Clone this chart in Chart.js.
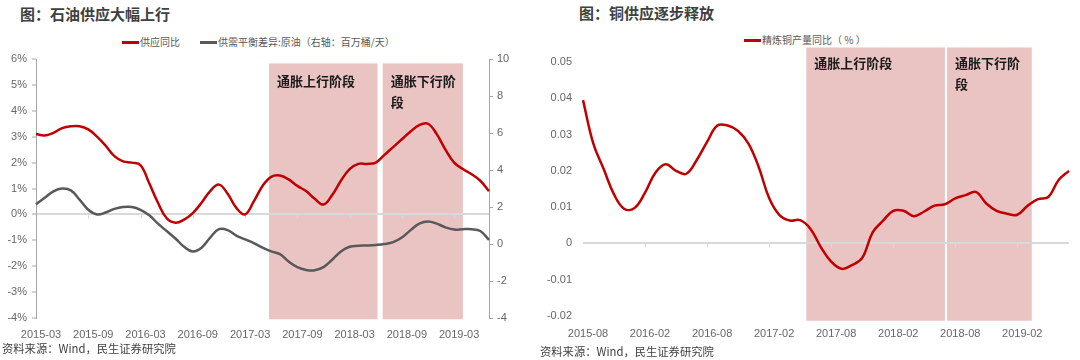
<!DOCTYPE html>
<html>
<head>
<meta charset="utf-8">
<script src="https://cdn.jsdelivr.net/npm/chart.js@4.4.0/dist/chart.umd.min.js"></script>
<style>
body{margin:0;background:#fff;width:1080px;height:360px;overflow:hidden;position:relative;font-family:'Noto Sans CJK SC',sans-serif;}
.box{position:absolute;top:0;width:540px;height:360px;}
.title{position:absolute;font-weight:bold;font-size:15px;color:#404040;line-height:20px;white-space:nowrap;}
.legend{position:absolute;font-size:10px;color:#595959;line-height:14px;white-space:nowrap;}
.legend i{display:inline-block;width:17px;height:3px;vertical-align:middle;margin-right:1px;position:relative;top:-1px;}
.src{position:absolute;font-size:11.3px;color:#404040;line-height:16px;white-space:nowrap;}
</style>
</head>
<body>
<div class="title" style="left:20px;top:4px;">图：石油供应大幅上行</div>
<div class="legend" style="left:122px;top:35px;"><i style="background:#c00000"></i>供应同比<span style="display:inline-block;width:20px"></span><i style="background:#595959"></i>供需平衡差异:原油（右轴：百万桶/天）</div>
<div class="box" style="left:0"><canvas id="oil"></canvas></div>
<div class="src" style="left:2px;top:340px;">资料来源：Wind，民生证券研究院</div>

<div class="title" style="left:579px;top:3px;">图：铜供应逐步释放</div>
<div class="legend" style="left:744px;top:33px;"><i style="background:#c00000"></i>精炼铜产量同比（ % ）</div>
<div class="box" style="left:540px"><canvas id="copper"></canvas></div>
<div class="src" style="left:540px;top:343px;">资料来源：Wind，民生证券研究院</div>

<script>
// 石油
var oilLabels = ['2015-03','2015-04','2015-05','2015-06','2015-07','2015-08','2015-09','2015-10','2015-11','2015-12',
  '2016-01','2016-02','2016-03','2016-04','2016-05','2016-06','2016-07','2016-08','2016-09','2016-10','2016-11','2016-12',
  '2017-01','2017-02','2017-03','2017-04','2017-05','2017-06','2017-07','2017-08','2017-09','2017-10','2017-11','2017-12',
  '2018-01','2018-02','2018-03','2018-04','2018-05','2018-06','2018-07','2018-08','2018-09','2018-10','2018-11','2018-12',
  '2019-01','2019-02','2019-03','2019-04','2019-05','2019-06','2019-07'];
var oilTicks = ['2015-03','2015-09','2016-03','2016-09','2017-03','2017-09','2018-03','2018-09','2019-03'];
var oilSupply = [3.10,3.05,3.15,3.33,3.40,3.40,3.28,3.00,2.65,2.25,
  2.05,2.00,1.90,1.20,0.45,-0.15,-0.32,-0.20,0.05,0.45,0.90,1.15,
  0.80,0.25,0.00,0.50,1.10,1.45,1.50,1.35,1.10,0.90,0.60,0.38,
  0.75,1.30,1.75,1.95,1.95,2.00,2.30,2.60,2.90,3.20,3.45,3.50,
  3.10,2.50,2.00,1.75,1.55,1.30,0.90];
var oilBalance = [2.15,2.50,2.85,3.00,2.90,2.40,1.85,1.60,1.70,1.90,
  2.00,2.00,1.85,1.55,1.10,0.70,0.30,-0.15,-0.40,-0.20,0.35,0.80,
  0.75,0.45,0.25,0.05,-0.20,-0.40,-0.55,-0.95,-1.25,-1.40,-1.42,-1.25,
  -0.85,-0.40,-0.15,-0.10,-0.08,-0.05,0.00,0.10,0.35,0.75,1.10,1.22,
  1.10,0.90,0.78,0.80,0.80,0.70,0.22];
var oilPhases = [[26.75,39.2],[39.8,49.0]];

// 铜
var cuLabels = ['2015-08','2015-09','2015-10','2015-11','2015-12',
  '2016-01','2016-02','2016-03','2016-04','2016-05','2016-06','2016-07','2016-08','2016-09','2016-10','2016-11','2016-12',
  '2017-01','2017-02','2017-03','2017-04','2017-05','2017-06','2017-07','2017-08','2017-09','2017-10','2017-11','2017-12',
  '2018-01','2018-02','2018-03','2018-04','2018-05','2018-06','2018-07','2018-08','2018-09','2018-10','2018-11','2018-12',
  '2019-01','2019-02','2019-03','2019-04','2019-05','2019-06','2019-07'];
var cuTicks = ['2015-08','2016-02','2016-08','2017-02','2017-08','2018-02','2018-08','2019-02'];
var cuOutput = [0.0395,0.0275,0.0205,0.0135,0.0095,
  0.0098,0.0140,0.0195,0.0218,0.0200,0.0192,0.0230,0.0280,0.0325,0.0325,0.0310,0.0275,
  0.0210,0.0125,0.0078,0.0063,0.0064,0.0040,-0.0010,-0.0050,-0.0070,-0.0060,-0.0040,0.0030,
  0.0062,0.0090,0.0090,0.0075,0.0088,0.0104,0.0108,0.0124,0.0133,0.0142,0.0110,0.0090,
  0.0082,0.0079,0.0104,0.0122,0.0128,0.0175,0.0200];
var cuPhases = [[21.6,35.0],[35.2,43.4]];

var phaseText = [['通胀上行阶段'],['通胀下行阶','段']];

var tickFont = {family:"'Liberation Sans','Noto Sans CJK SC',sans-serif", size:11};
var tickColor = '#666666';
var axisColor = '#a6a6a6';
var zeroColor = '#d9d9d9';

function phasePlugin(ranges, yTop, yBottom, ticks, textDy){
  return {
    id: 'phases',
    beforeDraw: function(chart){
      var ctx = chart.ctx, x = chart.scales.x, y = chart.scales.y;
      var y0 = y.getPixelForValue(yTop), y1 = y.getPixelForValue(yBottom);
      ctx.save();
      ranges.forEach(function(r, k){
        var x0 = x.getPixelForValue(r[0]), x1 = x.getPixelForValue(r[1]);
        ctx.fillStyle = '#eac3c3';
        ctx.fillRect(x0, y0, x1 - x0, y1 - y0);
        ctx.fillStyle = '#1a1a1a';
        ctx.font = "bold 13px 'Noto Sans CJK SC'";
        ctx.textBaseline = 'middle';
        phaseText[k].forEach(function(t, j){
          ctx.fillText(t, x0 + 8, y0 + textDy + j * 21);
        });
      });
      ctx.restore();
    },
    beforeDatasetsDraw: function(chart){
      var ctx = chart.ctx, x = chart.scales.x, y = chart.scales.y;
      var yz = y.getPixelForValue(0);
      ctx.save();
      ctx.strokeStyle = zeroColor;
      ctx.lineWidth = 1;
      chart.data.labels.forEach(function(l, i){
        if (i > 0 && ticks.indexOf(l) >= 0) {
          var px = Math.round(x.getPixelForValue(i)) + 0.5;
          ctx.beginPath();
          ctx.moveTo(px, yz);
          ctx.lineTo(px, yz + 4);
          ctx.stroke();
        }
      });
      ctx.restore();
    }
  };
}

function zeroGrid(c){ return c.tick && c.tick.value === 0 ? zeroColor : 'rgba(0,0,0,0)'; }

new Chart(document.getElementById('oil'), {
  type: 'line',
  data: {
    labels: oilLabels,
    datasets: [
      {label:'供应同比', data: oilSupply, yAxisID:'y', borderColor:'#c00000', borderWidth:2.5, pointRadius:0, tension:0.4},
      {label:'供需平衡差异:原油（右轴：百万桶/天）', data: oilBalance, yAxisID:'y1', borderColor:'#595959', borderWidth:2.5, pointRadius:0, tension:0.4}
    ]
  },
  options: {
    responsive: true, maintainAspectRatio: false, animation: false,
    layout: {padding: {top:59, right:0, bottom:0, left:0}},
    plugins: {legend:{display:false}, tooltip:{enabled:false}},
    scales: {
      x: {
        offset: false,
        grid: {display:false, drawTicks:false},
        border: {display:false},
        ticks: {autoSkip:false, maxRotation:0, padding:10, labelOffset:5, font:tickFont, color:tickColor,
          callback: function(v){ var l = oilLabels[v]; return oilTicks.indexOf(l) >= 0 ? l : ''; }},
        afterFit: function(s){ s.height = 42; }
      },
      y: {
        position:'left', min:-4, max:6,
        ticks: {stepSize:1, padding:5, font:tickFont, color:tickColor, callback: function(v){ return v + '%'; }},
        grid: {color: zeroGrid, lineWidth:2, tickColor:axisColor, tickLength:4, tickWidth:1},
        border: {display:true, color:axisColor, width:1},
        afterFit: function(s){ s.width = 36; }
      },
      y1: {
        position:'right', min:-4, max:10,
        ticks: {stepSize:2, padding:4, font:tickFont, color:tickColor},
        grid: {drawOnChartArea:false, tickColor:axisColor, tickLength:4},
        border: {display:true, color:axisColor, width:1},
        afterFit: function(s){ s.width = 51; }
      }
    }
  },
  plugins: [phasePlugin(oilPhases, 5.83, -4.05, oilTicks, 18)]
});

new Chart(document.getElementById('copper'), {
  type: 'line',
  data: {
    labels: cuLabels,
    datasets: [
      {label:'精炼铜产量同比（%）', data: cuOutput, borderColor:'#c00000', borderWidth:2.5, pointRadius:0, tension:0.4}
    ]
  },
  options: {
    responsive: true, maintainAspectRatio: false, animation: false,
    layout: {padding: {top:62, right:4, bottom:0, left:0}},
    plugins: {legend:{display:false}, tooltip:{enabled:false}},
    scales: {
      x: {
        offset: false,
        grid: {display:false, drawTicks:false},
        border: {display:false},
        ticks: {autoSkip:false, maxRotation:0, padding:11, labelOffset:5, font:tickFont, color:tickColor,
          callback: function(v){ var l = cuLabels[v]; return cuTicks.indexOf(l) >= 0 ? l : ''; }},
        afterFit: function(s){ s.height = 44; }
      },
      y: {
        min:-0.02, max:0.05,
        ticks: {stepSize:0.01, padding:11, font:tickFont, color:tickColor,
          callback: function(v){ return String(Number(v.toFixed(2))); }},
        grid: {color: zeroGrid, lineWidth:2, drawTicks:false},
        border: {display:false},
        afterFit: function(s){ s.width = 43; }
      }
    }
  },
  plugins: [phasePlugin(cuPhases, 0.054, -0.0213, cuTicks, 16)]
});
</script>
</body>
</html>
